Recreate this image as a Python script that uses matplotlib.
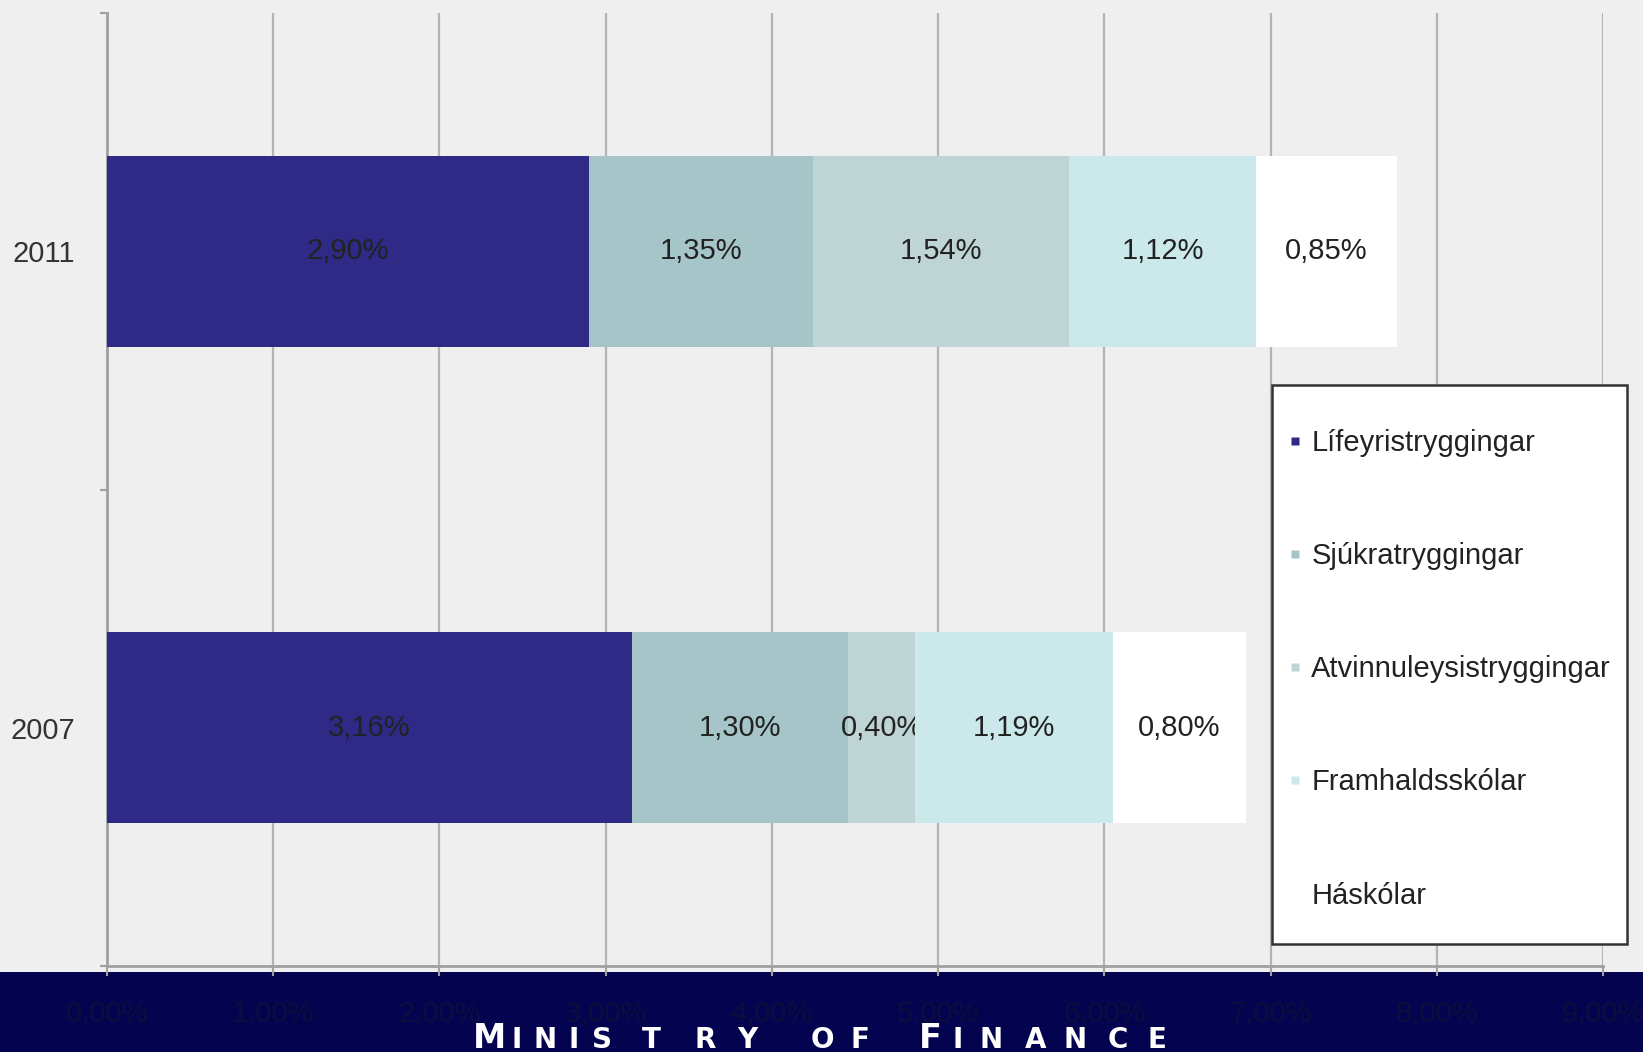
import matplotlib
matplotlib.use("Agg")
import matplotlib.pyplot as plt
from matplotlib.lines import Line2D
from matplotlib.patches import Rectangle
from matplotlib.ticker import FuncFormatter, FixedLocator
import numpy as np

years = ["2007", "2011"]
series = ["Lífeyristryggingar", "Sjúkratryggingar", "Atvinnuleysistryggingar",
          "Framhaldsskólar", "Háskólar"]
lifeyris = [3.16, 2.90]
sjukra = [1.30, 1.35]
atvinnu = [0.40, 1.54]
framhalds = [1.19, 1.12]
haskolar = [0.80, 0.85]
values = [lifeyris, sjukra, atvinnu, framhalds, haskolar]
colors = ["#2e2a86", "#a5c5c8", "#bfd5d5", "#cbe8eb", "#ffffff"]
xticks = [0, 1, 2, 3, 4, 5, 6, 7, 8, 9]
footer = "MINISTRY OF FINANCE"

plt.rcParams['font.family'] = ['Liberation Sans', 'DejaVu Sans']

W, H = 1643, 1052
fig = plt.figure(figsize=(W / 100, H / 100), dpi=100, facecolor="#efefef")
ax = fig.add_axes([107 / W, 1 - 966 / H, (1603 - 107) / W, (966 - 13) / H])
ax.set_facecolor("#efefef")

# navy band at bottom
fig.patches.append(Rectangle((0, 0), 1, (H - 972) / H, transform=fig.transFigure,
                             facecolor="#03034f", edgecolor="none", zorder=-1))

y = np.arange(len(years))
left = np.zeros(len(years))
for name, vals, col in zip(series, values, colors):
    bars = ax.barh(y, vals, left=left, height=0.4, color=col, edgecolor="none",
                   zorder=3, label=name)
    ax.bar_label(bars, labels=[f"{v:.2f}%".replace('.', ',') for v in vals],
                 label_type='center', fontsize=21, color="#222222")
    left = left + np.array(vals)

ax.set_xlim(0, 9)
ax.set_ylim(-0.5, 1.5)
ax.xaxis.set_major_locator(FixedLocator(xticks))
ax.xaxis.set_major_formatter(FuncFormatter(lambda v, p: f"{v:.2f}%".replace('.', ',')))
ax.grid(axis='x', color="#b4b4b4", linewidth=1.6, zorder=0)
ax.set_axisbelow(True)

ax.set_yticks(y)
ax.set_yticklabels(years)
ax.set_yticks([-0.5, 0.5, 1.5], minor=True)
ax.tick_params(axis='y', which='major', length=0, pad=23, labelsize=21,
               labelcolor="#333333")
ax.tick_params(axis='y', which='minor', length=5, width=1.5, color="#a0a0a0")
ax.tick_params(axis='x', which='major', length=7.5, width=1.5, color="#a0a0a0",
               pad=17, labelsize=21, labelcolor="#0d0d3d")

for s in ["top", "right"]:
    ax.spines[s].set_visible(False)
for s in ["left", "bottom"]:
    ax.spines[s].set_color("#a0a0a0")
    ax.spines[s].set_linewidth(2)

# legend
handles = [Line2D([0], [0], marker='s', linestyle='none', markersize=6,
                  markerfacecolor=c, markeredgecolor='none') for c in colors]
fig.patches.append(Rectangle((1272 / W, 1 - 944 / H), 355 / W, 559 / H,
                             transform=fig.transFigure, facecolor="white",
                             edgecolor="#333333", linewidth=1.8, zorder=5))
leg = fig.legend(handles, series, loc='upper left',
                 bbox_to_anchor=(1288 / W, 1 - 429 / H), frameon=False,
                 fontsize=21, handlelength=0.5, handletextpad=0.3,
                 labelspacing=2.92, borderpad=0, borderaxespad=0)
leg.set_zorder(6)
for t in leg.get_texts():
    t.set_color("#222222")

# footer text in small caps style, letter by letter
centers = [489, 517, 545, 574, 602, 651, 705, 747, None,
           822, 860, None, 930, 958, 991, 1036, 1075, 1118, 1157]
big = {0, 12}
for i, ch in enumerate(footer):
    if ch == " ":
        continue
    fig.text(centers[i] / W, 1 - 1048 / H, ch, ha='center', va='baseline',
             fontsize=24 if i in big else 20, color="white", fontweight='bold',
             family='DejaVu Sans')

fig.savefig("out.png", dpi=100, facecolor=fig.get_facecolor())
